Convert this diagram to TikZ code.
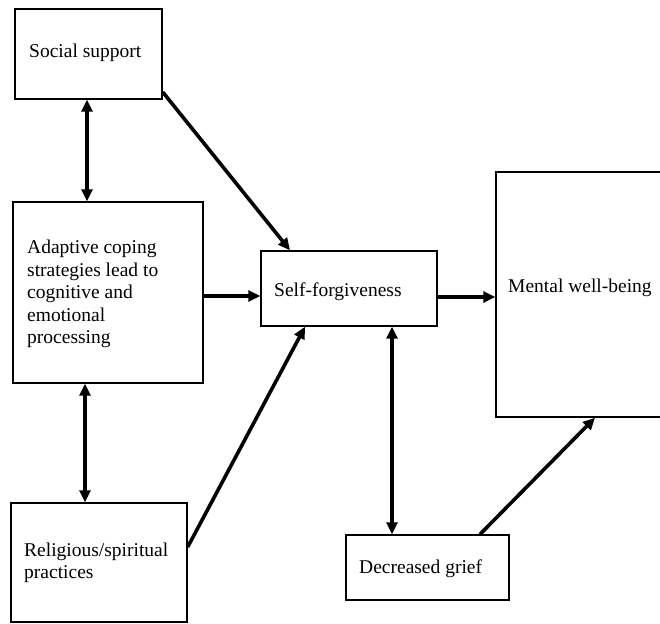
\documentclass[tikz,border=0pt]{standalone}
\usepackage{fontspec}
\setmainfont{Liberation Serif}
\usetikzlibrary{arrows.meta,calc}
\begin{document}
\begin{tikzpicture}[x=1pt,y=-1pt,
  box/.style={draw,line width=1.4pt,inner sep=0,minimum width=#1},
  lbl/.style={anchor=west,inner sep=0,align=left,font=\fontsize{19.5}{22.5}\selectfont},
  arr/.style={line width=3.6pt,-{Triangle[length=12pt,width=11pt]}},
  darr/.style={line width=3.6pt,{Triangle[length=12pt,width=11pt]}-{Triangle[length=12pt,width=11pt]}}]
\useasboundingbox (0,0) rectangle (660,623);
% boxes
\node[box=147pt,minimum height=90pt] (SS) at (88.5,54) {};
\node[box=190pt,minimum height=181pt] (AD) at (108,292.5) {};
\node[box=176pt,minimum height=119pt] (RE) at (99,562.5) {};
\node[box=176pt,minimum height=75pt] (SF) at (349,288.5) {};
\node[box=190pt,minimum height=245pt] (MW) at (591,294.5) {};
\node[box=163pt,minimum height=65pt] (DG) at (427.5,567.5) {};
% labels
\node[lbl] (tSS) at (29,53) {Social support};
\node[lbl] (tAD) at (27,294) {Adaptive coping\\strategies lead to\\cognitive and\\emotional\\processing};
\node[lbl] (tRE) at (24,563) {Religious/spiritual\\practices};
\node[lbl] (tSF) at (274,292) {Self-forgiveness};
\node[lbl] (tMW) at (508,288) {Mental well-being};
\node[lbl] (tDG) at (359,569) {Decreased grief};
% connectors
\draw[darr] (SS.south -| 87,0) -- (AD.north -| 87,0);
\draw[darr] (AD.south -| 85,0) -- (RE.north -| 85,0);
\draw[arr] (SS.east |- 0,92) -- (SF.north -| 290,0);
\draw[arr] (AD.east |- 0,296) -- (SF.west |- 0,296);
\draw[arr] (RE.east |- 0,547) -- (SF.south -| 305,0);
\draw[arr] (SF.east |- 0,297) -- (MW.west |- 0,297);
\draw[darr] (SF.south -| 392,0) -- (DG.north -| 392,0);
\draw[arr] (DG.north -| 480,0) -- (MW.south -| 595,0);
\end{tikzpicture}
\end{document}
